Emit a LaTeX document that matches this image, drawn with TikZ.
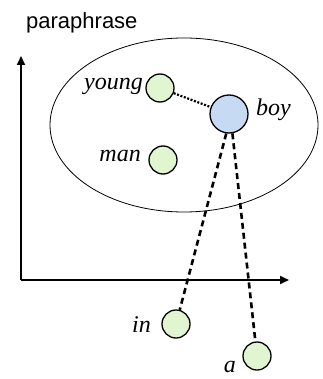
\documentclass[tikz,border=0pt]{standalone}
\usepackage{fontspec}
\setmainfont{Liberation Serif}
\newfontfamily\titlefont{Liberation Sans}
\usetikzlibrary{arrows.meta}
\definecolor{wgreen}{HTML}{E1F5D0}
\definecolor{wblue}{HTML}{C6DAF4}
\tikzset{
  word/.style={circle, draw=black, line width=1.3pt, fill=wgreen, minimum size=28pt, inner sep=0pt},
  head/.style={word, fill=wblue, minimum size=38pt},
  lbl/.style={font=\fontsize{24}{24}\selectfont\itshape, inner sep=0pt},
  axis/.style={line width=2pt, -{Triangle[length=9pt,width=8pt]}},
  dep/.style={line width=2.6pt, dash pattern=on 6pt off 4pt},
  dots/.style={line width=2.2pt, dash pattern=on 2pt off 1.6pt}
}
\begin{document}
\begin{tikzpicture}[x=1pt,y=-1pt]
\useasboundingbox (0,0) rectangle (322,379);
\node[font=\titlefont\fontsize{22}{22}\selectfont, anchor=west, inner sep=0pt] (title) at (26,23) {paraphrase};
\coordinate (o) at (21,280);
\coordinate (ytop) at (21,56);
\coordinate (xend) at (289,280);
\draw[axis] (o) -- (ytop);
\draw[axis] (o) -- (xend);
\draw[line width=0.8pt] (184,125) ellipse [x radius=134, y radius=87];
\node[word] (young) at (160,88) {};
\node[word] (man) at (163,160) {};
\node[head] (boy) at (229,114) {};
\node[word] (in) at (176,324) {};
\node[word] (a) at (257,356) {};
\node[lbl, anchor=east] (ly) at (143,86) {young};
\node[lbl, anchor=west] (lb) at (256,110) {boy};
\node[lbl, anchor=east] (lm) at (141,156) {man};
\node[lbl, anchor=east] (li) at (151,325) {in};
\node[lbl, anchor=east] (la) at (236,367) {a};
\draw[dots] (young) -- (boy);
\draw[dep] (boy.262) -- (in);
\draw[dep] (boy.280) -- (a);
\end{tikzpicture}
\end{document}
